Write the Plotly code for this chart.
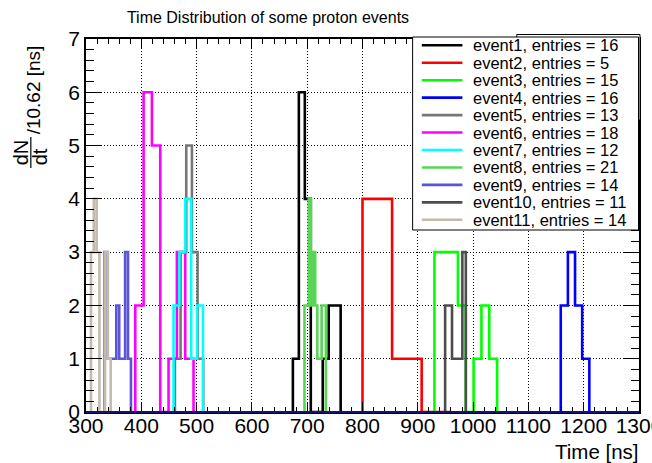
import plotly.graph_objects as go

# ---------------- data ----------------
names = ["event1", "event2", "event3", "event4", "event5", "event6",
         "event7", "event8", "event9", "event10", "event11"]
entries = [16, 5, 15, 16, 13, 18, 12, 21, 14, 11, 14]
colors = ["#000000", "#FF0000", "#00FF00", "#0000FF", "#777777", "#FF00FF",
          "#00FFFF", "#59D454", "#5954D9", "#4D4D4D", "#C4BAAE"]

# first bin low edge [ns], bin width [ns], bin contents
starts = [674.1, 800.0, 930.1, 1158.5, 460.8, 389.1,
          458.3, 695.1, 333.6, 949.4, 309.0]
widths = [10.8, 53.5, 14.16, 6.46, 10.25, 15.05,
          10.63, 3.87, 5.3, 6.24, 5.1]
counts = [
    [1, 6, 4, 0, 0, 1, 2, 2],
    [4, 1, 0],
    [3, 3, 3, 2, 0, 1, 2, 1],
    [2, 2, 3, 3, 2, 2, 1, 1],
    [1, 3, 5, 3, 1],
    [2, 6, 5, 0, 1, 3, 1],
    [2, 3, 4, 1, 2],
    [2, 2, 4, 2, 3, 2, 1, 1, 2, 2],
    [3, 1, 1, 1, 2, 1, 1, 3, 1],
    [2, 2, 1, 1, 1, 3],
    [3, 4, 3, 0, 0, 3, 1],
]

x_ticks = [300, 400, 500, 600, 700, 800, 900, 1000, 1100, 1200, 1300]
y_ticks = [0, 1, 2, 3, 4, 5, 6, 7]

FONT = "Liberation Sans, Arial, Helvetica, sans-serif"
W, H = 652, 463
L, R, T, B = 85.7, 13.0, 39.0, 51.0
PW, PH = W - L - R, H - T - B


def px_x(p):
    return (p - L) / PW


def px_y(p):
    return (H - B - p) / PH


fig = go.Figure()

for name, col, s, w, c in zip(names, colors, starts, widths, counts):
    xs = [s] + [s + i * w for i in range(len(c))] + [s + len(c) * w]
    ys = [0] + list(c) + [0]
    fig.add_trace(go.Scatter(x=xs, y=ys, mode="lines",
                             line=dict(color=col, width=2.6, shape="hv"),
                             name=name, showlegend=False, hoverinfo="skip"))

axis_common = dict(
    showline=True, linecolor="black", linewidth=1.5, mirror="ticks",
    ticks="inside", tickcolor="black", tickwidth=1,
    showgrid=True, gridcolor="black", gridwidth=1, griddash="1px,2px",
    zeroline=False, automargin=False,
    tickfont=dict(family=FONT, size=21, color="black"),
)

fig.update_xaxes(range=[300, 1300], tickvals=x_ticks,
                 ticktext=[str(v) for v in x_ticks], ticklen=10,
                 ticklabelstandoff=-6, ticklabeloverflow="allow",
                 minor=dict(dtick=20, ticklen=5, tickcolor="black", ticks="inside", showgrid=False),
                 **axis_common)
fig.update_yaxes(range=[0, 7], tickvals=y_ticks,
                 ticktext=[str(v) for v in y_ticks], ticklen=15,
                 minor=dict(dtick=0.2, ticklen=8, tickcolor="black", ticks="inside", showgrid=False),
                 **axis_common)

shapes = []
annotations = []

# dark baseline along the x axis
shapes.append(dict(type="line", xref="paper", yref="paper",
                   x0=0, x1=1, y0=0, y1=0,
                   line=dict(color="#14146E", width=2.2), layer="above"))

# hidden box behind legend
shapes.append(dict(type="rect", xref="paper", yref="paper",
                   x0=px_x(516.7), x1=px_x(640.0), y0=px_y(120), y1=px_y(34.5),
                   line=dict(color="black", width=1), fillcolor="white", layer="above"))
# legend box
shapes.append(dict(type="rect", xref="paper", yref="paper",
                   x0=px_x(412.5), x1=px_x(638.5), y0=px_y(230), y1=px_y(37),
                   line=dict(color="black", width=1), fillcolor="white", layer="above"))
for i, (name, col, n) in enumerate(zip(names, colors, entries)):
    yc = 45.3 + 17.45 * i
    shapes.append(dict(type="line", xref="paper", yref="paper",
                       x0=px_x(421.7), x1=px_x(462.3), y0=px_y(yc), y1=px_y(yc),
                       line=dict(color=col, width=2.6), layer="above"))
    annotations.append(dict(xref="paper", yref="paper", x=px_x(471.0), y=px_y(yc),
                            text=f"{name}, entries = {n}", showarrow=False,
                            xanchor="left", yanchor="middle",
                            font=dict(family=FONT, size=16.5, color="black")))

# y axis title: dN/dt fraction + "/10.62 [ns]"
annotations.append(dict(xref="paper", yref="paper", x=px_x(21), y=px_y(152),
                        text="dN", textangle=-90, showarrow=False,
                        xanchor="center", yanchor="middle",
                        font=dict(family=FONT, size=20, color="black")))
annotations.append(dict(xref="paper", yref="paper", x=px_x(40), y=px_y(157),
                        text="dt", textangle=-90, showarrow=False,
                        xanchor="center", yanchor="middle",
                        font=dict(family=FONT, size=20, color="black")))
shapes.append(dict(type="line", xref="paper", yref="paper",
                   x0=px_x(30.5), x1=px_x(30.5), y0=px_y(137), y1=px_y(168),
                   line=dict(color="black", width=1.2)))
annotations.append(dict(xref="paper", yref="paper", x=px_x(33), y=px_y(90),
                        text="/10.62 [ns]", textangle=-90, showarrow=False,
                        xanchor="center", yanchor="middle",
                        font=dict(family=FONT, size=19, color="black")))

# x axis title
annotations.append(dict(xref="paper", yref="paper", x=px_x(641), y=px_y(451),
                        text="Time [ns]", showarrow=False,
                        xanchor="right", yanchor="middle",
                        font=dict(family=FONT, size=20.5, color="black")))

fig.update_layout(
    width=W, height=H,
    margin=dict(l=L, r=R, t=T, b=B, autoexpand=False),
    paper_bgcolor="white", plot_bgcolor="white",
    title=dict(text="Time Distribution of some proton events",
               x=268 / W, xanchor="center", y=1 - 17 / H, yanchor="middle",
               font=dict(family=FONT, size=16, color="black")),
    shapes=shapes, annotations=annotations,
    showlegend=False,
)

fig.write_html("out.html")
